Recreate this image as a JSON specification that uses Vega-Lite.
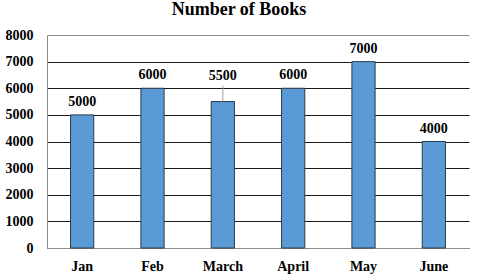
{
  "$schema": "https://vega.github.io/schema/vega-lite/v6.json",
  "width": 422,
  "height": 213,
  "autosize": {"type": "none"},
  "padding": {"left": 47, "top": 35, "right": 11, "bottom": 30},
  "background": "white",
  "title": {
    "text": "Number of Books",
    "font": "Liberation Serif",
    "fontSize": 18,
    "fontWeight": "bold",
    "color": "#000000",
    "anchor": "middle",
    "frame": "group",
    "dx": -19,
    "offset": 9
  },
  "config": {
    "view": {"stroke": null},
    "axis": {
      "labelFont": "Liberation Serif",
      "labelFontSize": 14,
      "labelFontWeight": "bold",
      "labelColor": "#000000",
      "labelOverlap": false,
      "ticks": false,
      "tickSize": 0,
      "domainColor": "#8c8c8c",
      "domainWidth": 1,
      "title": null
    }
  },
  "data": {
    "values": [
      {"month": "Jan", "books": 5000},
      {"month": "Feb", "books": 6000},
      {"month": "March", "books": 5500},
      {"month": "April", "books": 6000},
      {"month": "May", "books": 7000},
      {"month": "June", "books": 4000}
    ]
  },
  "encoding": {
    "x": {
      "field": "month",
      "type": "nominal",
      "sort": null,
      "scale": {"paddingInner": 0.67, "paddingOuter": 0.335},
      "axis": {"labelAngle": 0, "labelPadding": 11, "grid": false}
    },
    "y": {
      "field": "books",
      "type": "quantitative",
      "scale": {"domain": [0, 8000], "nice": false},
      "axis": {
        "values": [0, 1000, 2000, 3000, 4000, 5000, 6000, 7000, 8000],
        "format": "d",
        "labelPadding": 14,
        "grid": true,
        "gridColor": {"condition": {"test": "datum.value === 8000", "value": "#8c8c8c"}, "value": "#1a1a1a"},
        "gridWidth": 1
      }
    }
  },
  "layer": [
    {
      "mark": {"type": "bar", "fill": "#5b9bd5", "stroke": "#2b3a4a", "strokeWidth": 1}
    },
    {
      "transform": [{"filter": "datum.month === 'March'"}],
      "mark": {"type": "rule", "color": "#a0a0a0", "strokeWidth": 1},
      "encoding": {
        "y2": {"datum": 6100}
      }
    },
    {
      "transform": [{"filter": "datum.month !== 'March'"}],
      "mark": {"type": "text", "font": "Liberation Serif", "fontSize": 14, "fontWeight": "bold", "color": "#000000", "baseline": "middle", "dy": -13},
      "encoding": {
        "text": {"field": "books", "type": "quantitative", "format": "d"}
      }
    },
    {
      "transform": [{"filter": "datum.month === 'March'"}],
      "mark": {"type": "text", "font": "Liberation Serif", "fontSize": 14, "fontWeight": "bold", "color": "#000000", "baseline": "middle", "dy": -26},
      "encoding": {
        "text": {"field": "books", "type": "quantitative", "format": "d"}
      }
    }
  ]
}
